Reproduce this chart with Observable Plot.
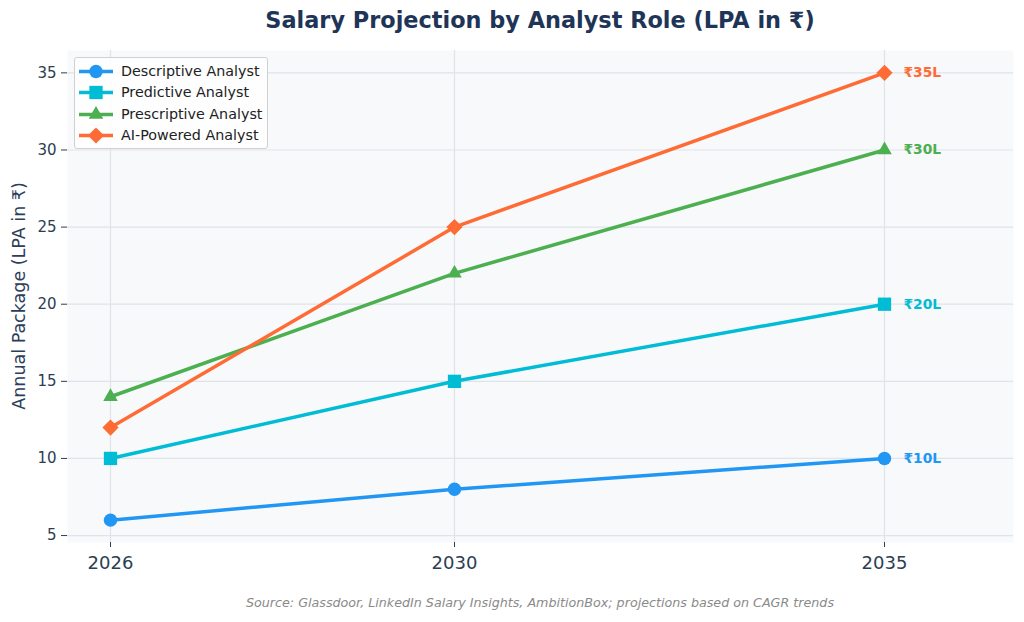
<!DOCTYPE html>
<html>
<head>
<meta charset="utf-8">
<script src="https://cdn.jsdelivr.net/npm/d3@7"></script>
<script src="https://cdn.jsdelivr.net/npm/@observablehq/plot@0.6"></script>
<style>
  html, body { margin: 0; padding: 0; background: #ffffff; }
  #wrap { position: relative; width: 1024px; height: 622px; font-family: "DejaVu Sans", sans-serif; overflow: hidden; }
  #title { position: absolute; left: 67px; width: 946px; top: 0; height: 40px; line-height: 40px; text-align: center;
           font-weight: bold; font-size: 22.4px; color: #1e3557; white-space: nowrap; }
  #chart { position: absolute; left: 0; top: 42px; }
  #ylabel { position: absolute; left: 19px; top: 296px; transform: translate(-50%, -50%) rotate(-90deg);
            font-size: 17.5px; color: #2c3e5a; white-space: nowrap; }
  #caption { position: absolute; left: 67px; width: 946px; top: 590px; line-height: 26px; text-align: center;
             font-size: 12.7px; font-style: italic; color: #8a8a8a; white-space: nowrap; }
  #legend { position: absolute; left: 74px; top: 57px; width: 194px; height: 92px; background: rgba(255,255,255,0.85);
            border: 1px solid #d0d0d0; border-radius: 3px; box-sizing: border-box; }
  #legend .row { position: absolute; left: 0; height: 21px; line-height: 21px; font-size: 14.3px; color: #222; white-space: nowrap; }
  #legend svg { position: absolute; left: 2px; top: 0; }
  #legend span { position: absolute; left: 46px; top: 0; }
</style>
</head>
<body>
<div id="wrap">
  <div id="title">Salary Projection by Analyst Role (LPA in ₹)</div>
  <div id="chart"></div>
  <div id="ylabel">Annual Package (LPA in ₹)</div>
  <div id="legend"></div>
  <div id="caption">Source: Glassdoor, LinkedIn Salary Insights, AmbitionBox; projections based on CAGR trends</div>
</div>
<script>
// Projection years and salary values (LPA) per analyst role
const years = [2026, 2030, 2035];
const roles = ["Descriptive Analyst", "Predictive Analyst", "Prescriptive Analyst", "AI-Powered Analyst"];
const descriptive = [6, 8, 10];
const predictive = [10, 15, 20];
const prescriptive = [14, 22, 30];
const aiPowered = [12, 25, 35];
const yTicks = [5, 10, 15, 20, 25, 30, 35];

const colors = ["#2196F3", "#00BCD4", "#4CAF50", "#FF6B35"];
const symbols = ["circle", "square", "triangle", "diamond2"];
const markerR = [6.7, 7.5, 5.4, 7.3];

const seriesValues = [descriptive, predictive, prescriptive, aiPowered];
const series = roles.map((role, i) => ({
  role,
  rows: years.map((year, j) => ({ role, year, value: seriesValues[i][j] }))
}));

const gridStyle = { stroke: "#dfe3ea", strokeOpacity: 1, strokeWidth: 1.2 };

const seriesMarks = series.flatMap((s, i) => [
  Plot.line(s.rows, { x: "year", y: "value", stroke: colors[i], strokeWidth: 3.5 }),
  Plot.dot(s.rows, { x: "year", y: "value", symbol: () => symbols[i], fill: colors[i], stroke: "none", r: markerR[i] }),
  Plot.text(s.rows.slice(-1), {
    x: "year", y: "value", text: d => `₹${d.value}L`, dx: 19, textAnchor: "start",
    fill: colors[i], fontWeight: "bold", fontSize: 13.8
  })
]);

const chart = Plot.plot({
  width: 1024,
  height: 544,
  marginTop: 8,
  marginLeft: 67,
  marginRight: 11,
  marginBottom: 44,
  style: { fontFamily: "DejaVu Sans", color: "#2c3e50", background: "transparent", overflow: "visible" },
  x: { domain: [2025.5, 2036.5], label: null },
  y: { domain: [4.55, 36.45], label: null },
  symbol: { type: "identity" },
  marks: [
    Plot.frame({ fill: "#f8f9fb", stroke: null }),
    Plot.gridX(years, gridStyle),
    Plot.gridY(yTicks, gridStyle),
    Plot.axisX(years, { tickSize: 5, tickPadding: 9, fontSize: 18, tickFormat: d => String(d), label: null }),
    Plot.axisY(yTicks, { tickSize: 6, tickPadding: 5, fontSize: 15, label: null }),
    ...seriesMarks
  ]
});
document.getElementById("chart").appendChild(chart);

// Legend: line swatch with marker, then role name
const legend = d3.select("#legend");
roles.forEach((role, i) => {
  const row = legend.append("div").attr("class", "row").style("top", `${2.5 + i * 21.5}px`);
  const svg = row.append("svg").attr("width", 40).attr("height", 21);
  svg.append("line").attr("x1", 2).attr("x2", 36).attr("y1", 10.5).attr("y2", 10.5)
    .attr("stroke", colors[i]).attr("stroke-width", 3.5);
  const sym = { circle: d3.symbolCircle, square: d3.symbolSquare, triangle: d3.symbolTriangle, diamond2: d3.symbolDiamond2 }[symbols[i]];
  svg.append("path").attr("transform", "translate(19,10.5)")
    .attr("d", d3.symbol(sym, Math.PI * markerR[i] * markerR[i])())
    .attr("fill", colors[i]);
  row.append("span").text(role);
});
</script>
</body>
</html>
